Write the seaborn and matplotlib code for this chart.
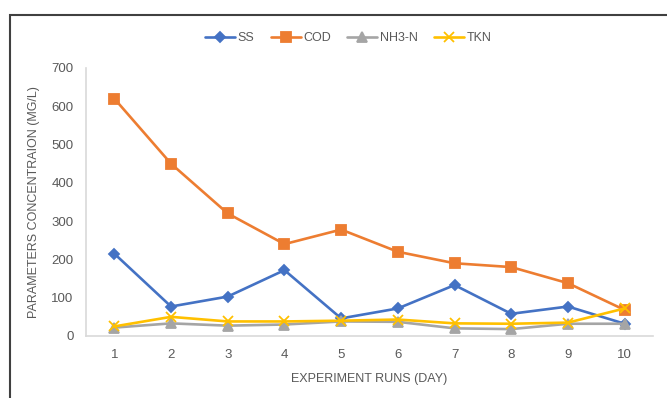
import numpy as np
import pandas as pd
import matplotlib
matplotlib.use('Agg')
import matplotlib.pyplot as plt
import seaborn as sns
from matplotlib.patches import Rectangle

# ========== data ==========
days = [1, 2, 3, 4, 5, 6, 7, 8, 9, 10]
ss = [215, 77, 103, 172, 46, 72, 133, 58, 77, 32]
cod = [620, 450, 320, 240, 278, 220, 190, 180, 138, 68]
nh3n = [22, 33, 27, 30, 38, 37, 20, 18, 32, 32]
tkn = [25, 50, 38, 38, 40, 43, 33, 32, 35, 72]

series_names = ['SS', 'COD', 'NH3-N', 'TKN']
series_vals = [ss, cod, nh3n, tkn]
colors = ['#4472C4', '#ED7D31', '#A5A5A5', '#FFC000']
markers = ['D', 's', '^', 'x']
msizes = [5, 7, 6.5, 7]

sns.set_style('white')
plt.rcParams['font.family'] = ['Liberation Sans', 'DejaVu Sans']

fig = plt.figure(figsize=(6.67, 3.98), dpi=100)
ax = fig.add_axes([86 / 667, 1 - 336 / 398, (653 - 86) / 667, (336 - 68) / 398])

# one lineplot per series (filled + line-art markers can't mix in one call)
for name, vals, c, mk, ms in zip(series_names, series_vals, colors, markers, msizes):
    d = pd.DataFrame({'day': days, 'value': vals})
    sns.lineplot(data=d, x='day', y='value', color=c, marker=mk, markersize=ms,
                 markeredgecolor=c, markeredgewidth=1.3, linewidth=1.9,
                 label=name, ax=ax)

ax.set_xlim(0.5, 10.5)
ax.set_ylim(0, 700)
ax.set_xticks(days)
ax.set_xticklabels([str(d) for d in days])
ax.set_yticks(np.arange(0, 701, 100))
ax.tick_params(axis='both', length=0, labelsize=9.5, labelcolor='#595959', pad=9)
for s in ['top', 'right']:
    ax.spines[s].set_visible(False)
for s in ['left', 'bottom']:
    ax.spines[s].set_color('#D9D9D9')
    ax.spines[s].set_linewidth(1.2)
ax.set_xlabel('EXPERIMENT RUNS (DAY)', fontsize=9, color='#595959', labelpad=9)
ax.set_ylabel('PARAMETERS CONCENTRAION (MG/L)', fontsize=9, color='#595959', labelpad=8)

handles, labels = ax.get_legend_handles_labels()
ax.legend(handles, labels, loc='center', bbox_to_anchor=(0.522, 1 - 38 / 398),
          bbox_transform=fig.transFigure, ncol=4, frameon=False, fontsize=9,
          handlelength=2.4, columnspacing=1.3, handletextpad=0.2,
          labelcolor='#595959')

# outer frame like the source screenshot
fig.patches.append(Rectangle((10 / 667, -0.1), 1.2, 1 - 15 / 398 + 0.1,
                             transform=fig.transFigure, fill=False,
                             edgecolor='#404040', linewidth=1.5))

plt.savefig('out.png', dpi=100)
